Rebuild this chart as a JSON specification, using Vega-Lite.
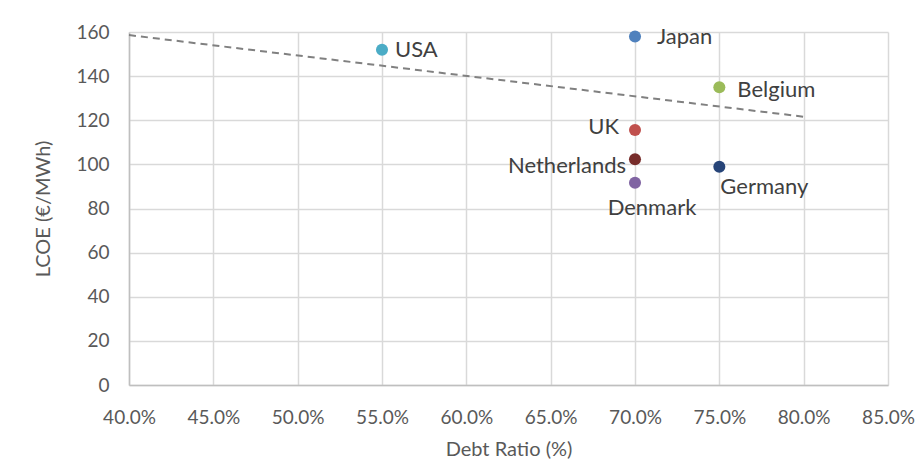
{
  "$schema": "https://vega.github.io/schema/vega-lite/v6.json",
  "width": 759,
  "height": 353,
  "autosize": {"type": "none"},
  "padding": {"left": 129, "top": 32, "right": 35, "bottom": 78},
  "background": "white",
  "config": {
    "font": "Lato",
    "view": {"stroke": null},
    "axis": {
      "labelFont": "Lato",
      "titleFont": "Lato",
      "labelColor": "#595959",
      "titleColor": "#595959",
      "labelFontSize": 19,
      "titleFontSize": 20,
      "titleFontWeight": "normal",
      "gridColor": "#D9D9D9",
      "gridWidth": 1.5,
      "domainColor": "#BFBFBF",
      "domainWidth": 1.5,
      "ticks": false,
      "labelOverlap": false,
      "labelFlush": false,
      "labelBound": false
    }
  },
  "datasets": {
    "points": [
      {"country": "USA", "debt": 0.55, "lcoe": 152},
      {"country": "Japan", "debt": 0.70, "lcoe": 158},
      {"country": "Belgium", "debt": 0.75, "lcoe": 135},
      {"country": "UK", "debt": 0.70, "lcoe": 115.6},
      {"country": "Netherlands", "debt": 0.70, "lcoe": 102.3},
      {"country": "Germany", "debt": 0.75, "lcoe": 98.9},
      {"country": "Denmark", "debt": 0.70, "lcoe": 91.7}
    ],
    "trend": [
      {"debt": 0.40, "lcoe": 158.6},
      {"debt": 0.80, "lcoe": 121.6}
    ]
  },
  "layer": [
    {
      "data": {"name": "trend"},
      "mark": {"type": "line", "color": "#808080", "strokeWidth": 2, "strokeDash": [7, 5]},
      "encoding": {
        "x": {
          "field": "debt", "type": "quantitative",
          "scale": {"domain": [0.4, 0.85], "nice": false, "zero": false},
          "axis": {"format": ".1%", "values": [0.4,0.45,0.5,0.55,0.6,0.65,0.7,0.75,0.8,0.85], "title": "Debt Ratio (%)", "labelPadding": 23, "titlePadding": 12, "grid": true}
        },
        "y": {
          "field": "lcoe", "type": "quantitative",
          "scale": {"domain": [0, 160], "nice": false},
          "axis": {"values": [0,20,40,60,80,100,120,140,160], "title": "LCOE (€/MWh)", "labelPadding": 20, "titlePadding": 22, "grid": true}
        }
      }
    },
    {
      "data": {"name": "points"},
      "mark": {"type": "circle", "size": 145, "opacity": 1},
      "encoding": {
        "x": {"field": "debt", "type": "quantitative"},
        "y": {"field": "lcoe", "type": "quantitative"},
        "color": {
          "field": "country", "type": "nominal",
          "scale": {
            "domain": ["USA", "Japan", "Belgium", "UK", "Netherlands", "Germany", "Denmark"],
            "range": ["#4BACC6", "#4F81BD", "#9BBB59", "#C0504D", "#772C2A", "#264478", "#8064A2"]
          },
          "legend": null
        }
      }
    },
    {
      "data": {"name": "points"},
      "transform": [{"filter": "datum.country === 'USA'"}],
      "mark": {"type": "text", "align": "left", "baseline": "middle", "dx": 13, "dy": 0, "fontSize": 22, "color": "#404040"},
      "encoding": {"x": {"field": "debt", "type": "quantitative"}, "y": {"field": "lcoe", "type": "quantitative"}, "text": {"field": "country"}}
    },
    {
      "data": {"name": "points"},
      "transform": [{"filter": "datum.country === 'Japan'"}],
      "mark": {"type": "text", "align": "left", "baseline": "middle", "dx": 22, "dy": 1, "fontSize": 22, "color": "#404040"},
      "encoding": {"x": {"field": "debt", "type": "quantitative"}, "y": {"field": "lcoe", "type": "quantitative"}, "text": {"field": "country"}}
    },
    {
      "data": {"name": "points"},
      "transform": [{"filter": "datum.country === 'Belgium'"}],
      "mark": {"type": "text", "align": "left", "baseline": "middle", "dx": 18, "dy": 3, "fontSize": 22, "color": "#404040"},
      "encoding": {"x": {"field": "debt", "type": "quantitative"}, "y": {"field": "lcoe", "type": "quantitative"}, "text": {"field": "country"}}
    },
    {
      "data": {"name": "points"},
      "transform": [{"filter": "datum.country === 'UK'"}],
      "mark": {"type": "text", "align": "right", "baseline": "middle", "dx": -16, "dy": -3, "fontSize": 22, "color": "#404040"},
      "encoding": {"x": {"field": "debt", "type": "quantitative"}, "y": {"field": "lcoe", "type": "quantitative"}, "text": {"field": "country"}}
    },
    {
      "data": {"name": "points"},
      "transform": [{"filter": "datum.country === 'Netherlands'"}],
      "mark": {"type": "text", "align": "right", "baseline": "middle", "dx": -9, "dy": 7, "fontSize": 22, "color": "#404040"},
      "encoding": {"x": {"field": "debt", "type": "quantitative"}, "y": {"field": "lcoe", "type": "quantitative"}, "text": {"field": "country"}}
    },
    {
      "data": {"name": "points"},
      "transform": [{"filter": "datum.country === 'Germany'"}],
      "mark": {"type": "text", "align": "left", "baseline": "middle", "dx": 1, "dy": 20, "fontSize": 22, "color": "#404040"},
      "encoding": {"x": {"field": "debt", "type": "quantitative"}, "y": {"field": "lcoe", "type": "quantitative"}, "text": {"field": "country"}}
    },
    {
      "data": {"name": "points"},
      "transform": [{"filter": "datum.country === 'Denmark'"}],
      "mark": {"type": "text", "align": "center", "baseline": "middle", "dx": 17, "dy": 25, "fontSize": 22, "color": "#404040"},
      "encoding": {"x": {"field": "debt", "type": "quantitative"}, "y": {"field": "lcoe", "type": "quantitative"}, "text": {"field": "country"}}
    }
  ]
}
